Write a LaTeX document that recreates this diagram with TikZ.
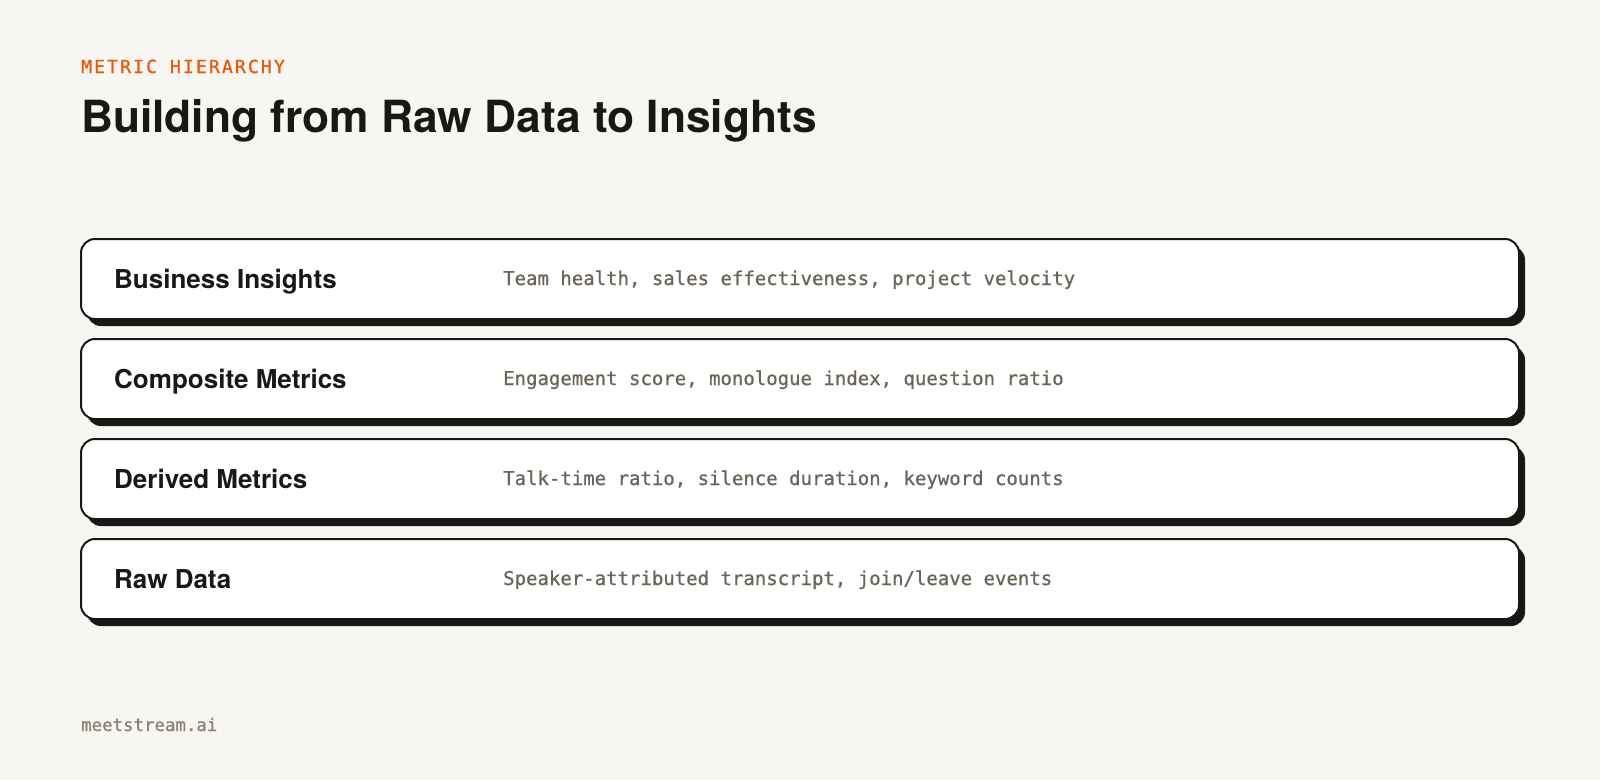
\documentclass[tikz,border=0pt]{standalone}
\usepackage{fontspec}
\usepackage{tikz}
\usetikzlibrary{shapes, shadows, positioning}
\setmainfont{TeX Gyre Heros}
\newfontfamily\monofont[FakeBold=0.8]{DejaVu Sans Mono}
\newfontfamily\kickerfont[LetterSpace=12, FakeBold=1]{DejaVu Sans Mono}
\newfontfamily\footfont[FakeBold=0.6]{DejaVu Sans Mono}
\definecolor{paper}{HTML}{F7F6F3}
\definecolor{ink}{HTML}{1A1814}
\definecolor{accent}{HTML}{E8590C}
\definecolor{muted}{HTML}{6B6459}
\definecolor{faint}{HTML}{8A8070}
\newcommand{\rowheight}{80}

\begin{document}
\begin{tikzpicture}[x=1pt,y=-1pt,
    layer/.style={draw=ink, line width=2pt, fill=white, rounded corners=14pt,
        minimum width=1438pt, minimum height=\rowheight pt, inner sep=0pt,
        drop shadow={shadow xshift=6pt, shadow yshift=-7pt, fill=ink, opacity=1}},
    layername/.style={anchor=base west, inner sep=0pt, text=ink,
        font=\fontsize{26}{30}\selectfont\bfseries},
    layerinfo/.style={anchor=base west, inner sep=0pt, text=muted,
        font=\fontsize{19}{22}\selectfont\monofont}]
            \useasboundingbox (0,0) rectangle (1600,780);
            \fill[paper] (0,0) rectangle (1600,780);

            % heading
            \node[anchor=base west, inner sep=0pt, text=accent,
                font=\fontsize{18}{22}\selectfont\kickerfont] (kicker) at (81,73) {METRIC HIERARCHY};
            \node[anchor=base west, inner sep=0pt, text=ink,
                font=\fontsize{44.3}{50}\selectfont\bfseries] (title) at (81,132) {Building from Raw Data to Insights};

            % layers, top to bottom
            \node[layer] (box_3) at (800,279) {};
            \node[layername] (name_3) at (114,288) {Business Insights};
            \node[layerinfo] (info_3) at (503,285) {Team health, sales effectiveness, project velocity};

            \node[layer] (box_2) at (800,379) {};
            \node[layername] (name_2) at (114,388) {Composite Metrics};
            \node[layerinfo] (info_2) at (503,385) {Engagement score, monologue index, question ratio};

            \node[layer] (box_1) at (800,479) {};
            \node[layername] (name_1) at (114,488) {Derived Metrics};
            \node[layerinfo] (info_1) at (503,485) {Talk-time ratio, silence duration, keyword counts};

            \node[layer] (box_0) at (800,579) {};
            \node[layername] (name_0) at (114,588) {Raw Data};
            \node[layerinfo] (info_0) at (503,585) {Speaker-attributed transcript, join/leave events};

            % footer
            \node[anchor=base west, inner sep=0pt, text=faint,
                font=\fontsize{17.4}{22}\selectfont\footfont] (brand) at (81,731) {meetstream.ai};
        \end{tikzpicture}
\end{document}
